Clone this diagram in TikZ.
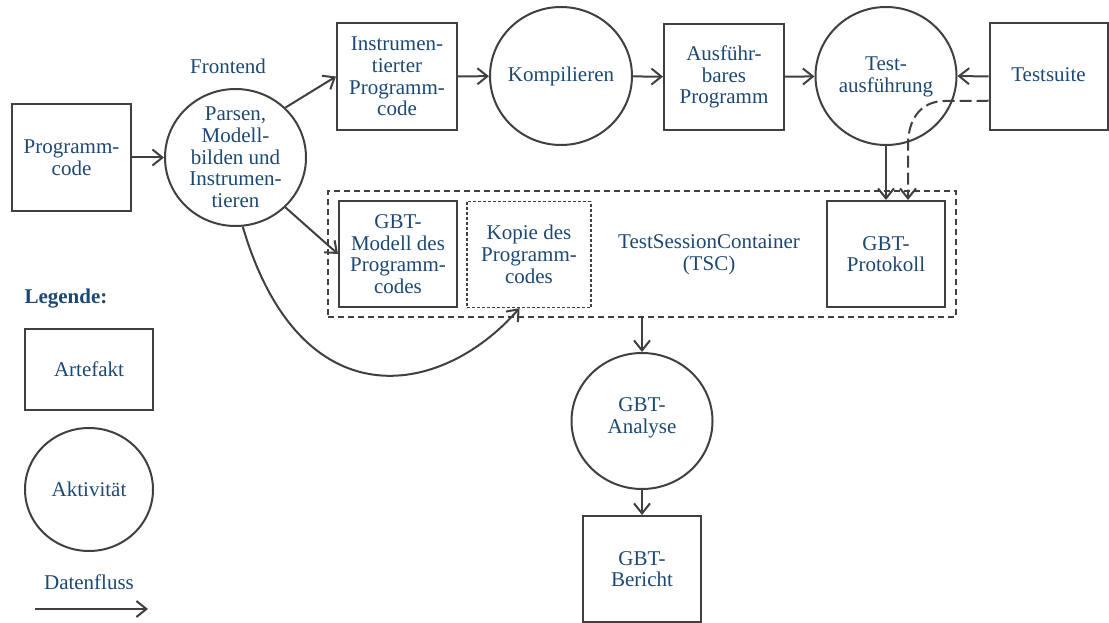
\documentclass[tikz,border=0pt]{standalone}
\usepackage{fontspec}
\setmainfont{Liberation Serif}
\usetikzlibrary{shapes.geometric,arrows.meta}
\definecolor{ink}{RGB}{64,64,64}
\definecolor{txtblue}{RGB}{28,72,115}
\tikzset{
  every node/.style={font=\fontsize{21}{21.7}\selectfont, text=txtblue, align=center},
  artefakt/.style={draw=ink, line width=2pt, rectangle, inner sep=0pt},
  aktiv/.style={draw=ink, line width=2pt, ellipse, inner sep=0pt},
  flow/.style={draw=ink, line width=2pt, -{Straight Barb[length=10pt,width=16pt,line width=2pt]}},
  container/.style={draw=ink, line width=1.3pt, dash pattern=on 6pt off 4pt, rectangle, inner sep=0pt},
  copybox/.style={draw=ink, line width=1.3pt, dash pattern=on 3pt off 2pt, rectangle, inner sep=0pt},
  lbl/.style={draw=none, inner sep=0pt}
}
\begin{document}
\begin{tikzpicture}[x=1pt, y=-1pt]
\useasboundingbox (0,0) rectangle (1109,623);

% Frontend
\node[lbl] (frontend) at (228,66) {Frontend};
\node[artefakt, minimum width=119pt, minimum height=107pt] (pcode) at (71.5,157.5) {Programm-\\code};
\node[aktiv, minimum width=141pt, minimum height=137pt,
      label={[lbl, text=txtblue]center:Parsen,\\Modell-\\bilden und\\Instrumen-\\tieren}] (parsen) at (235.5,157.5) {};
\node[artefakt, minimum width=120pt, minimum height=107pt] (instr) at (397,76.5) {Instrumen-\\tierter\\Programm-\\code};

% compile and run
\node[aktiv, minimum width=142pt, minimum height=138pt,
      label={[lbl, text=txtblue]center:Kompilieren}] (komp) at (561,76) {};
\node[artefakt, minimum width=120pt, minimum height=106pt] (ausf) at (724,77) {Ausführ-\\bares\\Programm};
\node[aktiv, minimum width=141pt, minimum height=138pt,
      label={[lbl, text=txtblue, yshift=-1pt]center:Test-\\ausführung}] (test) at (886,76) {};
\node[artefakt, minimum width=118pt, minimum height=107pt] (suite) at (1048.5,76.5) {\raisebox{3pt}{Testsuite}};

% TestSessionContainer
\node[container, minimum width=628pt, minimum height=126pt] (tsc) at (642,254) {};
\node[lbl] (tsclabel) at (709,255) {TestSessionContainer\\(TSC)};
\node[artefakt, minimum width=118pt, minimum height=106pt] (modell) at (398,254) {GBT-\\Modell des\\Programm-\\codes};
\node[copybox, minimum width=124pt, minimum height=106pt] (kopie) at (529,254.5) {Kopie des\\Programm-\\codes};
\node[artefakt, minimum width=118pt, minimum height=106pt] (proto) at (886,254) {GBT-\\Protokoll};

% analysis
\node[aktiv, minimum width=141pt, minimum height=136pt,
      label={[lbl, text=txtblue, yshift=3pt]center:GBT-\\Analyse}] (analyse) at (642,421) {};
\node[artefakt, minimum width=118pt, minimum height=106pt] (bericht) at (642,569) {GBT-\\Bericht};

% legend
\node[lbl, font=\fontsize{21}{21.7}\selectfont\bfseries] (legende) at (66,299) {Legende:};
\node[artefakt, minimum width=128pt, minimum height=81pt] (lgart) at (89,369.5) {Artefakt};
\node[aktiv, minimum width=128pt, minimum height=123pt,
      label={[lbl, text=txtblue]center:Aktivität}] (lgakt) at (89,489.5) {};
\node[lbl] (lgflow) at (89,582) {Datenfluss};
\coordinate (lgA) at (35,609);
\coordinate (lgB) at (148,609);
\draw[flow] (lgA) -- (lgB);

% data flow
\draw[flow] (pcode) -- (parsen);
\draw[flow] (parsen.45) -- (instr.west);
\draw[flow] (parsen.-45) -- (modell.west);
\draw[flow] (instr) -- (komp);
\draw[flow] (komp) -- (ausf);
\draw[flow] (ausf) -- (test);
\draw[flow] (suite.west) -- (test.east);
\draw[flow] (test.south) -- (test.south |- proto.north);
\draw[flow] (parsen.-84) .. controls +(57,194) and +(-80,91) .. (kopie.-100);
\coordinate (dturn) at (945,101);
\coordinate (ddown) at (908,145);
\draw[flow, dash pattern=on 12pt off 5pt] (suite.-158) -- (dturn) .. controls +(-25,0) and +(0,-25) .. (ddown) -- (ddown |- proto.north);
\draw[flow] (tsc.south) -- (analyse.north);
\draw[flow] (analyse.south) -- (bericht.north);
\end{tikzpicture}
\end{document}
